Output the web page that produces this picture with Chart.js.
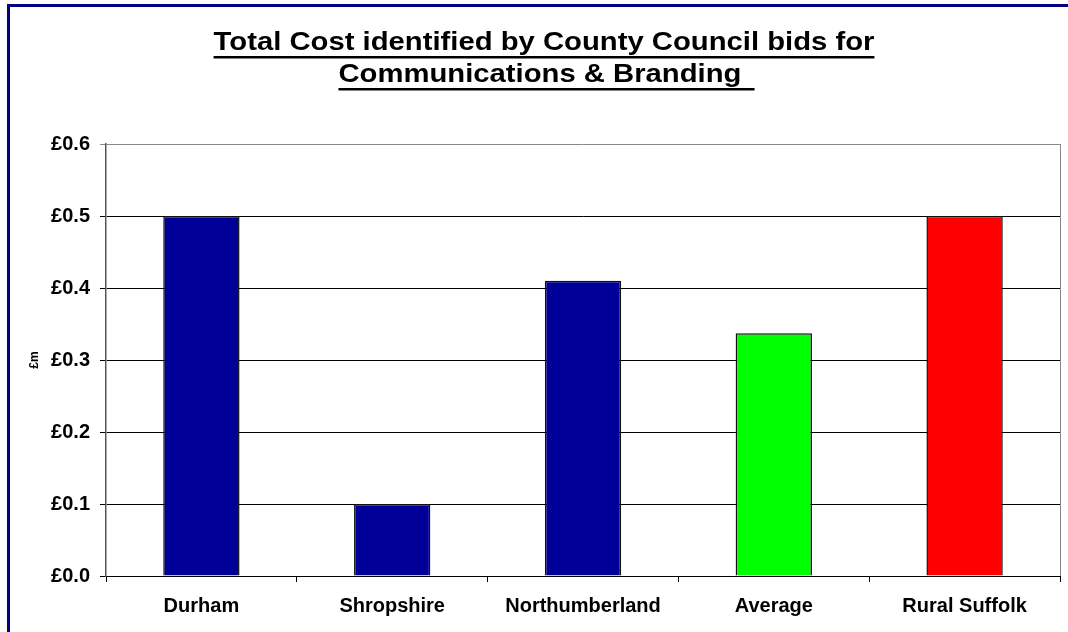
<!DOCTYPE html>
<html>
<head>
<meta charset="utf-8">
<script src="https://cdn.jsdelivr.net/npm/chart.js@4/dist/chart.umd.min.js"></script>
<style>
	html, body { margin: 0; padding: 0; background: #fff; }
	#wrap { width: 1068px; height: 632px; }
</style>
</head>
<body>
<div id="wrap"><canvas id="costChart" width="1068" height="632"></canvas></div>
<script>
const categories = ['Durham', 'Shropshire', 'Northumberland', 'Average', 'Rural Suffolk'];
const costs = [0.5, 0.1, 0.41, 0.337, 0.5];
const barColours = ['#000099', '#000099', '#000099', '#00FF00', '#FF0000'];
const titleLines = ['Total Cost identified by County Council bids for', 'Communications & Branding '];
const yMin = 0, yMax = 0.6, yStep = 0.1;

const FONT = "'Liberation Sans', Arial, sans-serif";

// frame, underlined title and the right edge of the plot
const decor = {
	id: 'decor',
	beforeDraw(chart){
		const c = chart.ctx;
		c.save();
		c.fillStyle = '#fff';
		c.fillRect(0, 0, chart.width, chart.height);
		c.strokeStyle = '#000080';
		c.lineWidth = 3;
		c.beginPath();
		c.moveTo(8.5, chart.height + 5);
		c.lineTo(8.5, 5.5);
		c.lineTo(chart.width + 5, 5.5);
		c.stroke();
		c.restore();
	},
	afterDraw(chart){
		const c = chart.ctx;
		const a = chart.chartArea;
		c.save();
		c.strokeStyle = '#888';
		c.lineWidth = 1;
		c.beginPath();
		c.moveTo(Math.round(a.right) + 0.5, a.top);
		c.lineTo(Math.round(a.right) + 0.5, a.bottom);
		c.stroke();

		c.font = 'bold 25px ' + FONT;
		c.fillStyle = '#000';
		c.textBaseline = 'alphabetic';
		const stretch = 1.17;
		const cx = 544;
		titleLines.forEach(function(line, i){
			const w = c.measureText(line).width * stretch;
			const x0 = cx - w / 2;
			const base = 50 + i * 32;
			c.save();
			c.translate(x0, base);
			c.scale(stretch, 1);
			c.textAlign = 'left';
			c.fillText(line, 0, 0);
			c.restore();
			c.fillRect(x0, base + 6, w + (i ? 5 : 0), 2.5);
		});
		c.restore();
	}
};

new Chart(document.getElementById('costChart'), {
	type: 'bar',
	data: {
		labels: categories,
		datasets: [{
			label: '£m',
			data: costs,
			backgroundColor: barColours,
			borderColor: '#111',
			borderWidth: 1.5,
			categoryPercentage: 1,
			barPercentage: 0.4
		}]
	},
	options: {
		responsive: false,
		animation: false,
		devicePixelRatio: 1,
		layout: { padding: { left: 0, top: 144, right: 8, bottom: 0 } },
		plugins: {
			legend: { display: false },
			title: { display: false },
			tooltip: { enabled: false }
		},
		scales: {
			x: {
				grid: {
					offset: true,
					drawOnChartArea: false,
					color: '#000',
					tickLength: 6
				},
				border: { color: '#000', width: 1 },
				ticks: {
					color: '#000',
					padding: 12,
					maxRotation: 0,
					font: { family: FONT, size: 20, weight: 'bold' }
				},
				afterFit(scale){ scale.height = 56; }
			},
			y: {
				min: yMin,
				max: yMax,
				grid: {
					color: function(ctx){ return ctx.tick && ctx.tick.value >= yMax ? '#888' : '#000'; },
					tickLength: 6
				},
				border: { color: '#555', width: 1.5 },
				ticks: {
					stepSize: yStep,
					color: '#000',
					padding: 10,
					font: { family: FONT, size: 20, weight: 'bold' },
					callback: function(v){ return '£' + Number(v).toFixed(1); }
				},
				title: {
					display: true,
					text: '£m',
					color: '#000',
					font: { family: FONT, size: 12, weight: 'bold' },
					padding: { top: 27, bottom: 0 }
				},
				afterFit(scale){ scale.width = 106; }
			}
		}
	},
	plugins: [decor]
});
</script>
</body>
</html>
